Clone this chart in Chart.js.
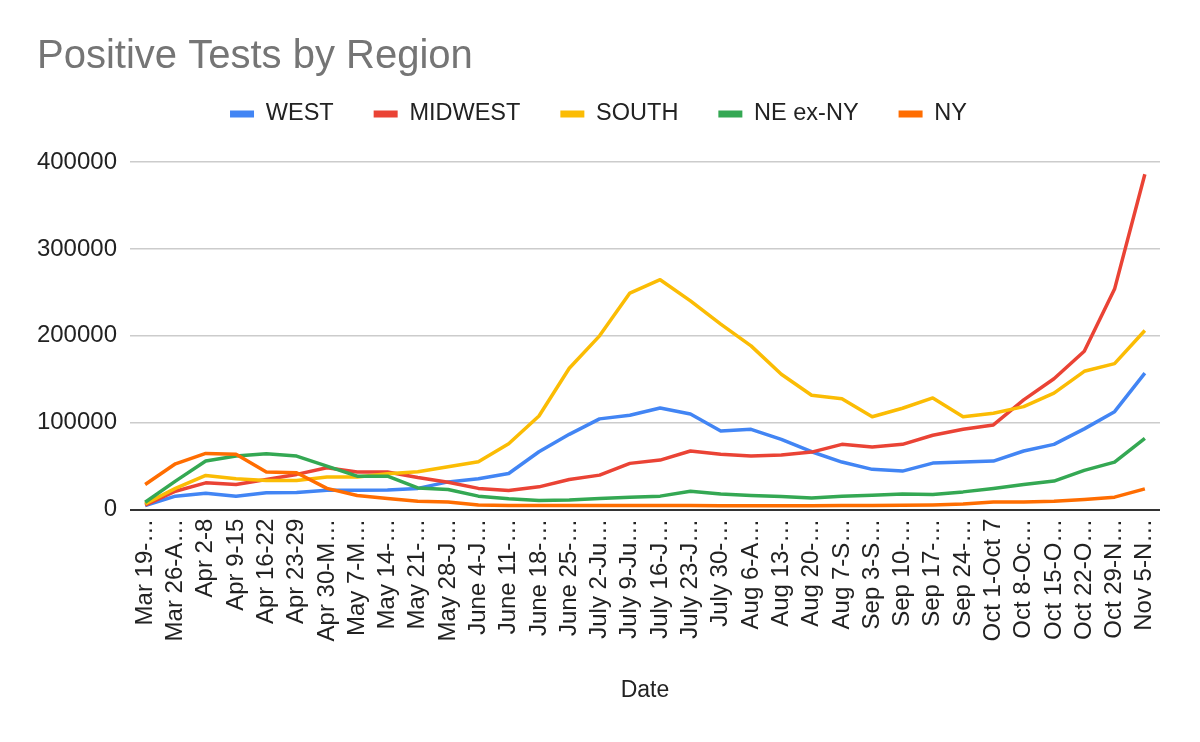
<!DOCTYPE html>
<html>
<head>
<meta charset="utf-8">
<title>Positive Tests by Region</title>
<script src="https://cdn.jsdelivr.net/npm/chart.js@4.4.0/dist/chart.umd.min.js"></script>
<style>
    html, body { margin: 0; padding: 0; background: #ffffff; }
    #chart-box { position: relative; width: 1200px; height: 742px; }
</style>
</head>
<body>
<div id="chart-box"><canvas id="region-chart"></canvas></div>
<script>
// Weekly date ranges (as shown, truncated)
const weeks = [
    "Mar 19-\u2026", "Mar 26-A\u2026", "Apr 2-8", "Apr 9-15", "Apr 16-22", "Apr 23-29",
    "Apr 30-M\u2026", "May 7-M\u2026", "May 14-\u2026", "May 21-\u2026", "May 28-J\u2026",
    "June 4-J\u2026", "June 11-\u2026", "June 18-\u2026", "June 25-\u2026", "July 2-Ju\u2026",
    "July 9-Ju\u2026", "July 16-J\u2026", "July 23-J\u2026", "July 30-\u2026", "Aug 6-A\u2026",
    "Aug 13-\u2026", "Aug 20-\u2026", "Aug 7-S\u2026", "Sep 3-S\u2026", "Sep 10-\u2026",
    "Sep 17-\u2026", "Sep 24-\u2026", "Oct 1-Oct 7", "Oct 8-Oc\u2026", "Oct 15-O\u2026",
    "Oct 22-O\u2026", "Oct 29-N\u2026", "Nov 5-N\u2026"
];

// Positive tests per region
const west = [4800, 15600, 19000, 15500, 19400, 19800, 22500, 22500, 22800, 24500, 32000,
    35500, 41700, 66700, 86700, 104500, 108600, 117000, 110000, 90500, 92500, 81000, 66700,
    54800, 46400, 44400, 53600, 54800, 55900, 67500, 75200, 93000, 112800, 157100];
const midwest = [5200, 21300, 30900, 29000, 34800, 40600, 48200, 43300, 43300, 37000, 31500,
    24500, 22100, 26300, 34800, 39800, 53300, 57100, 67500, 63700, 61700, 63000, 66300,
    75200, 72100, 75200, 85600, 92500, 97500, 126300, 150600, 182300, 253800, 385900];
const south = [6700, 24500, 39400, 35500, 33700, 33700, 37500, 37500, 41300, 43600, 49500,
    55100, 75900, 107800, 162800, 200000, 249200, 264600, 240300, 213500, 188500, 155800,
    131600, 127700, 107000, 116700, 128600, 107000, 110900, 118600, 134100, 159200, 168100, 206200];
const neExNy = [8600, 32900, 56000, 61700, 64400, 61700, 50200, 38600, 38600, 25100, 23300,
    15600, 12500, 10600, 11300, 12900, 14400, 15600, 21300, 18200, 16400, 15200, 13600,
    15600, 16700, 18200, 17500, 20500, 24500, 29000, 32900, 45200, 54800, 82100];
const ny = [29000, 52800, 64800, 63700, 43300, 42500, 24500, 16400, 12900, 9800, 8800,
    5500, 4800, 4800, 4800, 4800, 4800, 4800, 4800, 4500, 4500, 4500, 4500,
    4800, 4800, 5000, 5500, 6700, 9000, 9000, 9800, 11800, 14400, 24000];

const yTicks = [0, 100000, 200000, 300000, 400000];

const FONT = "Arial, 'Liberation Sans', sans-serif";

// Make a line dataset
function makeSeries(label, values, color, order) {
    return {
        label: label,
        data: values,
        borderColor: color,
        backgroundColor: color,
        borderWidth: 3.5,
        pointRadius: 0,
        pointHoverRadius: 0,
        tension: 0,
        fill: false,
        borderJoinStyle: "round",
        order: order
    };
}

// Extra room between legend and plot
const legendGap = {
    id: "legendGap",
    beforeInit(chart) {
        const fit = chart.legend.fit;
        chart.legend.fit = function () {
            fit.bind(chart.legend)();
            this.height += 26.25;
        };
    }
};

// Flat legend boxes, no outline
function legendLabels(chart) {
    const items = Chart.defaults.plugins.legend.labels.generateLabels(chart);
    return items.map(item => Object.assign(item, { lineWidth: 0 }));
}

const ctx = document.getElementById("region-chart").getContext("2d");

new Chart(ctx, {
    type: "line",
    data: {
        labels: weeks,
        datasets: [
            makeSeries("WEST", west, "#4285F4", 5),
            makeSeries("MIDWEST", midwest, "#EA4335", 4),
            makeSeries("SOUTH", south, "#FBBC04", 3),
            makeSeries("NE ex-NY", neExNy, "#34A853", 2),
            makeSeries("NY", ny, "#FF6D01", 1)
        ]
    },
    plugins: [legendGap],
    options: {
        responsive: true,
        maintainAspectRatio: false,
        animation: false,
        layout: {
            padding: { top: 0, left: 37, right: 40, bottom: 0 }
        },
        plugins: {
            title: {
                display: true,
                text: "Positive Tests by Region",
                align: "start",
                color: "#757575",
                font: { family: FONT, size: 40, weight: "normal", lineHeight: 1 },
                padding: { top: 36.5, bottom: -14.25 }
            },
            legend: {
                display: true,
                position: "top",
                align: "center",
                labels: {
                    color: "#222222",
                    font: { family: FONT, size: 23.5 },
                    boxWidth: 24,
                    boxHeight: 7,
                    padding: 40,
                    generateLabels: legendLabels,
                    sort: (a, b) => a.datasetIndex - b.datasetIndex
                }
            },
            tooltip: { enabled: false }
        },
        scales: {
            x: {
                offset: true,
                grid: { display: false, drawTicks: false },
                border: { display: false },
                ticks: {
                    autoSkip: false,
                    minRotation: 90,
                    maxRotation: 90,
                    padding: 9,
                    color: "#222222",
                    font: { family: FONT, size: 24 }
                },
                title: {
                    display: true,
                    text: "Date",
                    color: "#222222",
                    font: { family: FONT, size: 23 },
                    padding: { top: 26, bottom: 38 }
                }
            },
            y: {
                min: 0,
                max: 400000,
                afterBuildTicks: (axis) => {
                    axis.ticks = yTicks.map(v => ({ value: v }));
                },
                afterFit: (axis) => {
                    axis.width = 93;
                },
                border: { display: false },
                grid: {
                    drawTicks: false,
                    color: (c) => (c.tick && c.tick.value === 0 ? "#333333" : "#cccccc"),
                    lineWidth: (c) => (c.tick && c.tick.value === 0 ? 2 : 1.5)
                },
                ticks: {
                    padding: 13,
                    color: "#222222",
                    font: { family: FONT, size: 24 },
                    callback: (v) => String(v)
                }
            }
        }
    }
});
</script>
</body>
</html>
